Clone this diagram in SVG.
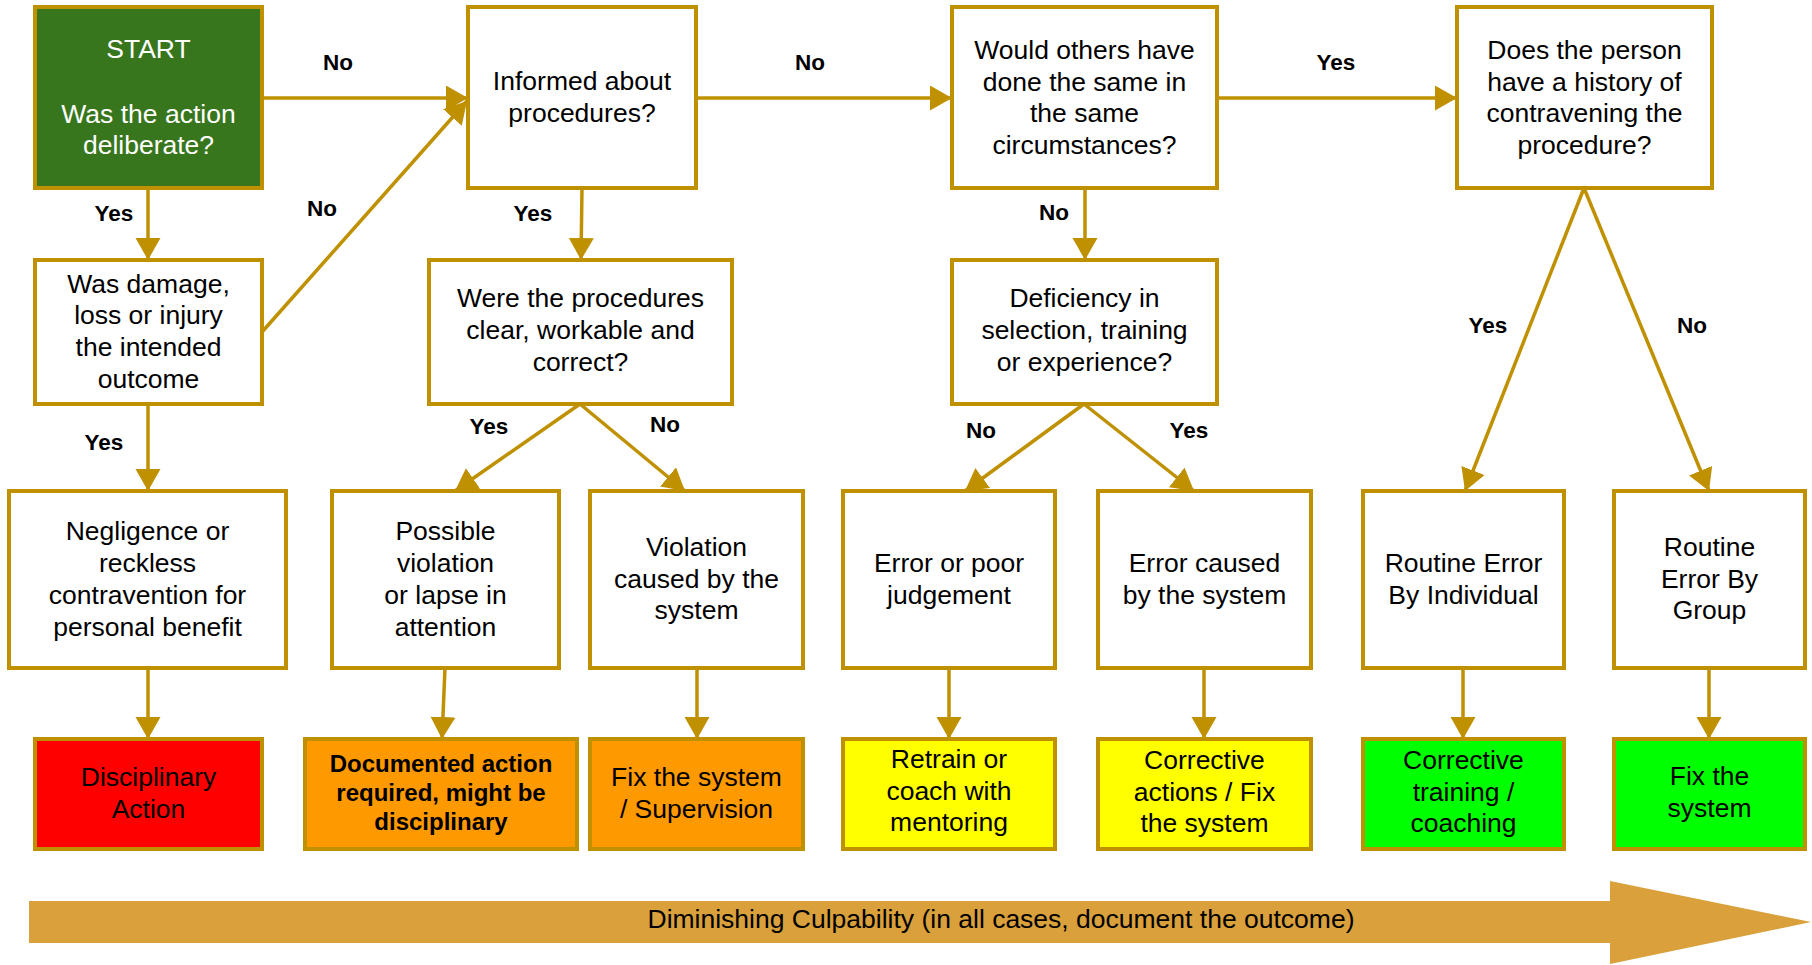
<svg xmlns="http://www.w3.org/2000/svg" width="1812" height="965" viewBox="0 0 1812 965">
<style>
  .box { stroke: #BF9000; stroke-width: 4; fill: #FFFFFF; }
  .start { fill: #38761D; }
  .red { fill: #FF0000; }
  .orange { fill: #FF9900; }
  .yellow { fill: #FFFF00; }
  .green { fill: #00FF00; }
  text { font-family: "Liberation Sans", Arial, sans-serif; font-size: 26.5px; fill: #000000; text-anchor: middle; }
  .white { fill: #FFFFFF; }
  .bold { font-weight: bold; font-size: 24px; }
  .lbl { font-weight: bold; font-size: 22.5px; }
  .conn line { stroke: #BF9000; stroke-width: 3.5; marker-end: url(#ah); }
</style>
<defs>
  <marker id="ah" markerUnits="userSpaceOnUse" markerWidth="24" markerHeight="26" refX="22" refY="12.5" orient="auto">
    <path d="M0,0 L22,12.5 L0,25 Z" fill="#BF9000"/>
  </marker>
</defs>
<rect width="1812" height="965" fill="#FFFFFF"/>

<g id="connectors" class="conn">
  <line x1="148" y1="188" x2="148" y2="260"/>
  <line x1="262" y1="98" x2="468" y2="98"/>
  <line x1="262" y1="332" x2="467" y2="101"/>
  <line x1="696" y1="98" x2="952" y2="98"/>
  <line x1="582" y1="188" x2="581" y2="260"/>
  <line x1="1217" y1="98" x2="1457" y2="98"/>
  <line x1="1085" y1="188" x2="1085" y2="260"/>
  <line x1="580" y1="404" x2="455" y2="491"/>
  <line x1="580" y1="404" x2="685" y2="491"/>
  <line x1="1084" y1="404" x2="965" y2="491"/>
  <line x1="1084" y1="404" x2="1194" y2="491"/>
  <line x1="1584" y1="188" x2="1465" y2="491"/>
  <line x1="1584" y1="188" x2="1709" y2="491"/>
  <line x1="148" y1="404" x2="148" y2="491"/>
  <line x1="148" y1="668" x2="148" y2="739"/>
  <line x1="445" y1="668" x2="442" y2="739"/>
  <line x1="697" y1="668" x2="697" y2="739"/>
  <line x1="949" y1="668" x2="949" y2="739"/>
  <line x1="1204" y1="668" x2="1204" y2="739"/>
  <line x1="1463" y1="668" x2="1463" y2="739"/>
  <line x1="1709" y1="668" x2="1709" y2="739"/>
</g>

<g id="labels">
  <text class="lbl" x="338" y="70">No</text>
  <text class="lbl" x="322" y="216">No</text>
  <text class="lbl" x="114" y="221">Yes</text>
  <text class="lbl" x="810" y="70">No</text>
  <text class="lbl" x="533" y="221">Yes</text>
  <text class="lbl" x="1336" y="70">Yes</text>
  <text class="lbl" x="1054" y="220">No</text>
  <text class="lbl" x="1488" y="333">Yes</text>
  <text class="lbl" x="1692" y="333">No</text>
  <text class="lbl" x="104" y="450">Yes</text>
  <text class="lbl" x="489" y="434">Yes</text>
  <text class="lbl" x="665" y="432">No</text>
  <text class="lbl" x="981" y="438">No</text>
  <text class="lbl" x="1189" y="438">Yes</text>
</g>

<g id="n-start">
  <rect class="box start" x="35" y="7" width="227" height="181"/>
  <text class="white" x="148.5" y="58">START</text>
  <text class="white" x="148.5" y="123">Was the action</text>
  <text class="white" x="148.5" y="154">deliberate?</text>
</g>
<g id="n-damage">
  <rect class="box" x="35" y="260" width="227" height="144"/>
  <text x="148.5" y="293">Was damage,</text>
  <text x="148.5" y="324">loss or injury</text>
  <text x="148.5" y="356">the intended</text>
  <text x="148.5" y="388">outcome</text>
</g>
<g id="n-informed">
  <rect class="box" x="468" y="7" width="228" height="181"/>
  <text x="582" y="90">Informed about</text>
  <text x="582" y="122">procedures?</text>
</g>
<g id="n-clear">
  <rect class="box" x="429" y="260" width="303" height="144"/>
  <text x="580.5" y="307">Were the procedures</text>
  <text x="580.5" y="339">clear, workable and</text>
  <text x="580.5" y="371">correct?</text>
</g>
<g id="n-others">
  <rect class="box" x="952" y="7" width="265" height="181"/>
  <text x="1084.5" y="59">Would others have</text>
  <text x="1084.5" y="91">done the same in</text>
  <text x="1084.5" y="122">the same</text>
  <text x="1084.5" y="154">circumstances?</text>
</g>
<g id="n-history">
  <rect class="box" x="1457" y="7" width="255" height="181"/>
  <text x="1584.5" y="59">Does the person</text>
  <text x="1584.5" y="91">have a history of</text>
  <text x="1584.5" y="122">contravening the</text>
  <text x="1584.5" y="154">procedure?</text>
</g>
<g id="n-deficiency">
  <rect class="box" x="952" y="260" width="265" height="144"/>
  <text x="1084.5" y="307">Deficiency in</text>
  <text x="1084.5" y="339">selection, training</text>
  <text x="1084.5" y="371">or experience?</text>
</g>
<g id="n-negligence">
  <rect class="box" x="9" y="491" width="277" height="177"/>
  <text x="147.5" y="540">Negligence or</text>
  <text x="147.5" y="572">reckless</text>
  <text x="147.5" y="604">contravention for</text>
  <text x="147.5" y="636">personal benefit</text>
</g>
<g id="n-possible">
  <rect class="box" x="332" y="491" width="227" height="177"/>
  <text x="445.5" y="540">Possible</text>
  <text x="445.5" y="572">violation</text>
  <text x="445.5" y="604">or lapse in</text>
  <text x="445.5" y="636">attention</text>
</g>
<g id="n-violation">
  <rect class="box" x="590" y="491" width="213" height="177"/>
  <text x="696.5" y="556">Violation</text>
  <text x="696.5" y="588">caused by the</text>
  <text x="696.5" y="619">system</text>
</g>
<g id="n-error-poor">
  <rect class="box" x="843" y="491" width="212" height="177"/>
  <text x="949" y="572">Error or poor</text>
  <text x="949" y="604">judgement</text>
</g>
<g id="n-error-system">
  <rect class="box" x="1098" y="491" width="213" height="177"/>
  <text x="1204.5" y="572">Error caused</text>
  <text x="1204.5" y="604">by the system</text>
</g>
<g id="n-routine-ind">
  <rect class="box" x="1363" y="491" width="201" height="177"/>
  <text x="1463.5" y="572">Routine Error</text>
  <text x="1463.5" y="604">By Individual</text>
</g>
<g id="n-routine-grp">
  <rect class="box" x="1614" y="491" width="191" height="177"/>
  <text x="1709.5" y="556">Routine</text>
  <text x="1709.5" y="588">Error By</text>
  <text x="1709.5" y="619">Group</text>
</g>

<g id="o-disciplinary">
  <rect class="box red" x="35" y="739" width="227" height="110"/>
  <text x="148.5" y="786">Disciplinary</text>
  <text x="148.5" y="818">Action</text>
</g>
<g id="o-documented">
  <rect class="box orange" x="305" y="739" width="272" height="110"/>
  <text class="bold" x="441" y="772">Documented action</text>
  <text class="bold" x="441" y="801">required, might be</text>
  <text class="bold" x="441" y="830">disciplinary</text>
</g>
<g id="o-fix-supervision">
  <rect class="box orange" x="590" y="739" width="213" height="110"/>
  <text x="696.5" y="786">Fix the system</text>
  <text x="696.5" y="818">/ Supervision</text>
</g>
<g id="o-retrain">
  <rect class="box yellow" x="843" y="739" width="212" height="110"/>
  <text x="949" y="768">Retrain or</text>
  <text x="949" y="800">coach with</text>
  <text x="949" y="831">mentoring</text>
</g>
<g id="o-corrective-actions">
  <rect class="box yellow" x="1098" y="739" width="213" height="110"/>
  <text x="1204.5" y="769">Corrective</text>
  <text x="1204.5" y="801">actions / Fix</text>
  <text x="1204.5" y="832">the system</text>
</g>
<g id="o-corrective-training">
  <rect class="box green" x="1363" y="739" width="201" height="110"/>
  <text x="1463.5" y="769">Corrective</text>
  <text x="1463.5" y="801">training /</text>
  <text x="1463.5" y="832">coaching</text>
</g>
<g id="o-fix-system">
  <rect class="box green" x="1614" y="739" width="191" height="110"/>
  <text x="1709.5" y="785">Fix the</text>
  <text x="1709.5" y="817">system</text>
</g>

<g id="culpability-arrow">
  <polygon points="29,901 1610,901 1610,881 1811,922 1610,964 1610,943 29,943" fill="#D9A03B"/>
  <text x="1001" y="928" font-size="22" textLength="707" lengthAdjust="spacingAndGlyphs">Diminishing Culpability (in all cases, document the outcome)</text>
</g>
</svg>
